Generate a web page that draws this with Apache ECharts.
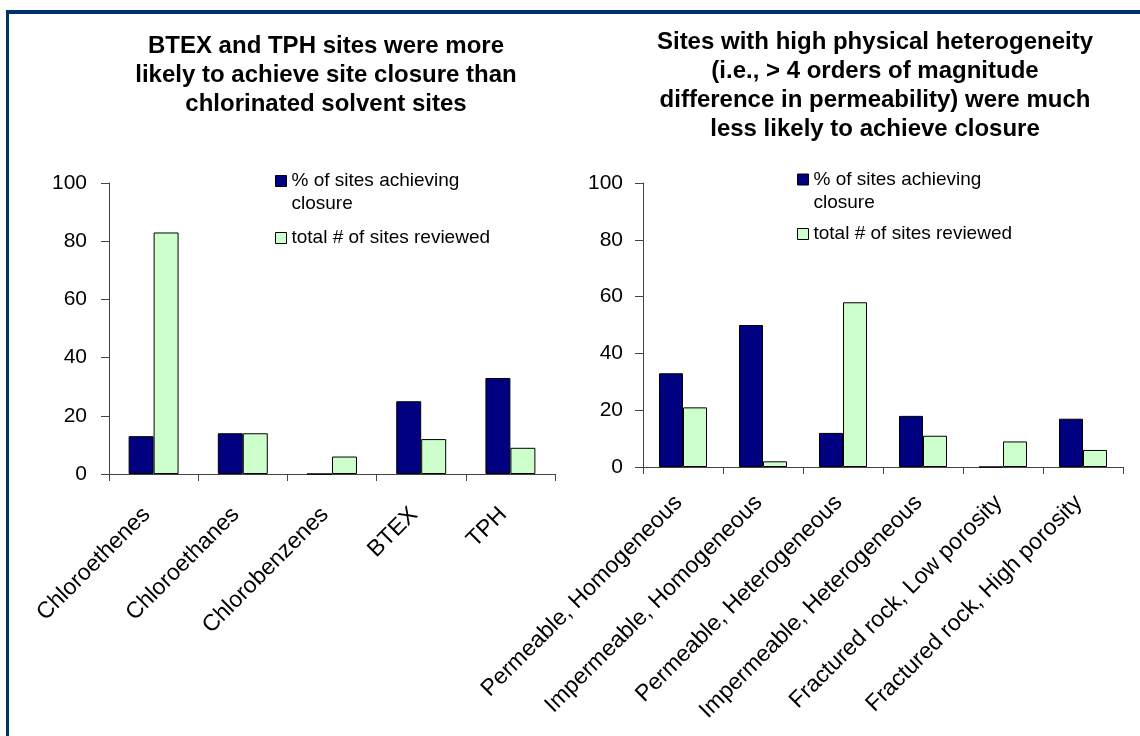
<!DOCTYPE html>
<html>
<head>
<meta charset="utf-8">
<script src="https://cdn.jsdelivr.net/npm/echarts@6/dist/echarts.min.js"></script>
<style>
  html, body { margin: 0; padding: 0; background: #fff; }
  #frame { position: absolute; left: 6px; top: 10px; width: 1134px; height: 726px;
           border-left: 3px solid #003366; border-top: 4px solid #003366; box-sizing: border-box; }
  #chart { position: absolute; left: 0; top: 0; width: 1140px; height: 736px; }
</style>
</head>
<body>
<div id="frame"></div>
<div id="chart"></div>
<script>
const seriesNames = ['% of sites achieving closure', 'total # of sites reviewed'];

const leftTitle = 'BTEX and TPH sites were more\nlikely to achieve site closure than\nchlorinated solvent sites';
const leftCategories = ['Chloroethenes', 'Chloroethanes', 'Chlorobenzenes', 'BTEX', 'TPH'];
const leftClosure = [13, 14, 0, 25, 33];
const leftTotal = [83, 14, 6, 12, 9];

const rightTitle = 'Sites with high physical heterogeneity\n(i.e., > 4 orders of magnitude\ndifference in permeability) were much\nless likely to achieve closure';
const rightCategories = ['Permeable, Homogeneous', 'Impermeable, Homogeneous', 'Permeable, Heterogeneous',
  'Impermeable, Heterogeneous', 'Fractured rock, Low porosity', 'Fractured rock, High porosity'];
const rightClosure = [33, 50, 12, 18, 0, 17];
const rightTotal = [21, 2, 58, 11, 9, 6];

const yMin = 0, yMax = 100, yStep = 20;

const FONT = '"Liberation Sans", Arial, sans-serif';
const DARK = '#000080';
const LIGHT = '#CCFFCC';

const chart = echarts.init(document.getElementById('chart'));

function xAxis(gridIndex, data, margin, pad) {
  return {
    type: 'category', gridIndex, data, boundaryGap: true,
    axisLine: { lineStyle: { color: '#444', width: 1 } },
    axisTick: { show: true, length: 7, lineStyle: { color: '#444' } },
    axisLabel: { rotate: 45, interval: 0, fontSize: 23, color: '#000', fontFamily: FONT,
                 margin, padding: [0, pad, 0, 0] }
  };
}
function yAxis(gridIndex, margin) {
  return {
    type: 'value', gridIndex, min: yMin, max: yMax, interval: yStep,
    splitLine: { show: false },
    axisLine: { show: true, lineStyle: { color: '#444', width: 1 } },
    axisTick: { show: true, length: 8, lineStyle: { color: '#444' } },
    axisLabel: { fontSize: 21, color: '#000', fontFamily: FONT, margin }
  };
}
function bar(name, xi, data, color, gap) {
  return {
    type: 'bar', name, xAxisIndex: xi, yAxisIndex: xi, data,
    barGap: '0%', barCategoryGap: gap,
    itemStyle: { color, borderColor: '#000', borderWidth: 1 },
    emphasis: { disabled: true }, animation: false
  };
}
function legend(name, left, top, twoLine) {
  const o = {
    data: [name], left, top, padding: 0,
    icon: 'rect', itemWidth: 11, itemHeight: 11, itemGap: 0,
    itemStyle: { borderColor: '#000', borderWidth: 1 },
    textStyle: { fontSize: 19, lineHeight: 23, color: '#000', fontFamily: FONT },
    selectedMode: false
  };
  if (twoLine) {
    o.formatter = () => ' \n% of sites achieving\nclosure';
  }
  return o;
}

chart.setOption({
  animation: false,
  title: [
    { text: leftTitle, left: 326, top: 32, textAlign: 'center', padding: 0,
      textStyle: { fontSize: 24, fontWeight: 'bold', lineHeight: 29, color: '#000', fontFamily: FONT } },
    { text: rightTitle, left: 875, top: 28, textAlign: 'center', padding: 0,
      textStyle: { fontSize: 24, fontWeight: 'bold', lineHeight: 29, color: '#000', fontFamily: FONT } }
  ],
  legend: [
    legend(seriesNames[0], 275, 146.5, true),
    legend(seriesNames[1], 275, 226.5, false),
    legend(seriesNames[0], 797, 145, true),
    legend(seriesNames[1], 797, 222.5, false)
  ],
  grid: [
    { left: 109, top: 183, width: 446, bottom: 262 },
    { left: 643, top: 183, width: 480, bottom: 269 }
  ],
  xAxis: [xAxis(0, leftCategories, 30, 10), xAxis(1, rightCategories, 28, 6)],
  yAxis: [yAxis(0, 22), yAxis(1, 20)],
  series: [
    bar(seriesNames[0], 0, leftClosure, DARK, '44%'),
    bar(seriesNames[1], 0, leftTotal, LIGHT, '44%'),
    bar(seriesNames[0], 1, rightClosure, DARK, '40%'),
    bar(seriesNames[1], 1, rightTotal, LIGHT, '40%')
  ]
});
</script>
</body>
</html>
